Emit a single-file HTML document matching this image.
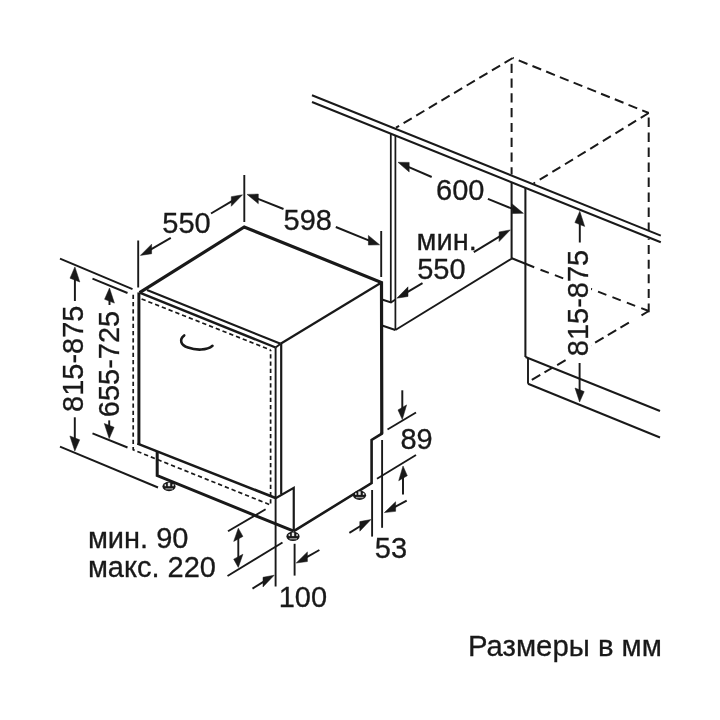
<!DOCTYPE html>
<html><head><meta charset="utf-8"><title>Размеры в мм</title>
<style>
html,body{margin:0;padding:0;background:#fff;}
body{width:720px;height:720px;overflow:hidden;}
svg{display:block;will-change:transform;}
svg text{font-family:"Liberation Sans",sans-serif;fill:#191919;stroke:#191919;stroke-width:0.3px;}
</style></head><body>
<svg width="720" height="720" viewBox="0 0 720 720" fill="none" stroke="#191919">
<line x1="312" y1="95.3" x2="660.8" y2="235.6" stroke-width="2.0" stroke-linecap="butt"/>
<line x1="312" y1="102" x2="660.8" y2="242.3" stroke-width="2.0" stroke-linecap="butt"/>
<line x1="512.7" y1="58" x2="396" y2="127.7" stroke-width="2.0" stroke-dasharray="9.5 5.2" stroke-dashoffset="0"/>
<line x1="512.7" y1="58" x2="648.75" y2="113" stroke-width="2.0" stroke-dasharray="9.4 5.4" stroke-dashoffset="8.3"/>
<line x1="648.75" y1="113" x2="533.5" y2="183.5" stroke-width="2.0" stroke-dasharray="9.4 5.4" stroke-dashoffset="0"/>
<line x1="511.6" y1="58" x2="511.6" y2="174.5" stroke-width="2.0" stroke-dasharray="9.2 5.6" stroke-dashoffset="9.1"/>
<line x1="648.7" y1="113" x2="648.7" y2="230.6" stroke-width="2.0" stroke-dasharray="9.3 5.7" stroke-dashoffset="10.4"/>
<line x1="648.7" y1="238.5" x2="648.7" y2="239.8" stroke-width="2.0" stroke-linecap="butt"/>
<line x1="648.7" y1="245.1" x2="648.7" y2="312.3" stroke-width="2.0" stroke-dasharray="9 5.6" stroke-dashoffset="0"/>
<line x1="511.8" y1="258.3" x2="534.2" y2="267.2" stroke-width="2.0" stroke-linecap="butt"/>
<line x1="540.5" y1="269.7" x2="648.75" y2="311" stroke-width="2.0" stroke-dasharray="8.9 6.5" stroke-dashoffset="0"/>
<line x1="648.75" y1="311" x2="641.5" y2="315.3" stroke-width="2.0" stroke-linecap="butt"/>
<line x1="628.9" y1="322.7" x2="527.5" y2="382.5" stroke-width="2.0" stroke-dasharray="9.8 4.9" stroke-dashoffset="0"/>
<line x1="390.8" y1="134" x2="390.8" y2="302.5" stroke-width="1.75" stroke-linecap="butt"/>
<line x1="395.4" y1="136" x2="395.4" y2="330" stroke-width="1.75" stroke-linecap="butt"/>
<polyline points="382,299.5 391,302.5 395.4,299.5" stroke-width="1.9" stroke-linejoin="miter"/>
<line x1="382" y1="325.5" x2="395.4" y2="330" stroke-width="1.9" stroke-linecap="butt"/>
<line x1="395.4" y1="330" x2="512" y2="258.5" stroke-width="1.9" stroke-linecap="butt"/>
<line x1="511.6" y1="182.5" x2="511.6" y2="258.5" stroke-width="2.05" stroke-linecap="butt"/>
<line x1="525.4" y1="188" x2="525.4" y2="357" stroke-width="2.05" stroke-linecap="butt"/>
<line x1="525.5" y1="357" x2="660" y2="411" stroke-width="1.9" stroke-linecap="butt"/>
<line x1="528" y1="358" x2="528" y2="383.75" stroke-width="1.9" stroke-linecap="butt"/>
<line x1="528" y1="383.75" x2="660" y2="437.5" stroke-width="1.9" stroke-linecap="butt"/>
<polyline points="139.6,292.7 244.25,227 381.5,282.5 381.8,433.7" stroke-width="3.2" stroke-linejoin="miter"/>
<polyline points="381.8,432 381.8,433.7 371.6,440 371.6,483 293.75,531.2" stroke-width="2.6" stroke-linejoin="miter"/>
<polyline points="147,290 280.6,343.75" stroke-width="2.1" stroke-linejoin="miter"/>
<line x1="280.6" y1="343.75" x2="381.5" y2="282.5" stroke-width="2.2" stroke-linecap="butt"/>
<polyline points="139.6,292.7 275.6,347.5" stroke-width="2.4" stroke-linejoin="miter"/>
<line x1="275.6" y1="347.5" x2="280.6" y2="343.75" stroke-width="1.9" stroke-linecap="butt"/>
<line x1="138.9" y1="292.4" x2="138.9" y2="445" stroke-width="3.0" stroke-linecap="butt"/>
<line x1="137.5" y1="443.6" x2="275.6" y2="498" stroke-width="2.6" stroke-linecap="butt"/>
<line x1="275.6" y1="347.5" x2="275.6" y2="586.5" stroke-width="1.9" stroke-linecap="butt"/>
<line x1="281.2" y1="344" x2="281.2" y2="494" stroke-width="2.2" stroke-linecap="butt"/>
<polyline points="133.2,294.8 133.2,449.8 270.6,505 270.6,350" stroke-width="1.7" stroke-dasharray="4.3 2.95" stroke-linejoin="miter"/>
<line x1="141.6" y1="299" x2="270.6" y2="350" stroke-width="1.7" stroke-dasharray="4.3 2.95" stroke-linecap="butt"/>
<polyline points="157.2,451 157.2,475.6 293.75,531.2" stroke-width="3.0" stroke-linejoin="miter"/>
<polyline points="275.6,498.3 293.75,487.8 293.75,531.2" stroke-width="2.2" stroke-linejoin="miter"/>
<ellipse cx="169" cy="486.5" rx="6.6" ry="4.7" fill="#191919" stroke="none"/>
<rect x="164.6" y="484.2" width="1.5" height="2" fill="#fff" stroke="none" opacity="0.85"/>
<rect x="167.8" y="482.7" width="2.4" height="3.5" fill="#fff" stroke="none" opacity="0.9"/>
<rect x="172.3" y="484.2" width="1.5" height="2" fill="#fff" stroke="none" opacity="0.85"/>
<rect x="165.4" y="488.2" width="7.6" height="1.3" fill="#fff" stroke="none" opacity="0.55"/>
<ellipse cx="293" cy="536.4" rx="6.6" ry="4.7" fill="#191919" stroke="none"/>
<rect x="288.6" y="534.1" width="1.5" height="2" fill="#fff" stroke="none" opacity="0.85"/>
<rect x="291.8" y="532.6" width="2.4" height="3.5" fill="#fff" stroke="none" opacity="0.9"/>
<rect x="296.3" y="534.1" width="1.5" height="2" fill="#fff" stroke="none" opacity="0.85"/>
<rect x="289.4" y="538.1" width="7.6" height="1.3" fill="#fff" stroke="none" opacity="0.55"/>
<ellipse cx="359.5" cy="495.2" rx="6.6" ry="4.7" fill="#191919" stroke="none"/>
<rect x="355.1" y="492.9" width="1.5" height="2" fill="#fff" stroke="none" opacity="0.85"/>
<rect x="358.3" y="491.4" width="2.4" height="3.5" fill="#fff" stroke="none" opacity="0.9"/>
<rect x="362.8" y="492.9" width="1.5" height="2" fill="#fff" stroke="none" opacity="0.85"/>
<rect x="355.9" y="496.9" width="7.6" height="1.3" fill="#fff" stroke="none" opacity="0.55"/>
<path d="M184.2,335.4 C179,339.5 180.5,345 188,347.5 C196,350.5 207,350.5 212.5,345.8" stroke-width="2.6" stroke-linecap="round"/>
<line x1="138.2" y1="240.5" x2="138.2" y2="287.5" stroke-width="1.9" stroke-linecap="butt"/>
<line x1="244.3" y1="175" x2="244.3" y2="222" stroke-width="1.9" stroke-linecap="butt"/>
<line x1="381.2" y1="231" x2="381.2" y2="277" stroke-width="1.9" stroke-linecap="butt"/>
<line x1="170.8" y1="237.9" x2="150.1" y2="249.82" stroke-width="1.95" stroke-linecap="butt"/>
<polygon points="140.40,255.40 151.60,244.15 151.60,253.75" fill="#191919" stroke="#191919" stroke-width="0.5" stroke-linejoin="round"/>
<line x1="211" y1="213.5" x2="232.8" y2="200.56" stroke-width="1.95" stroke-linecap="butt"/>
<polygon points="242.50,194.80 231.30,196.65 231.30,206.25" fill="#191919" stroke="#191919" stroke-width="0.5" stroke-linejoin="round"/>
<text x="162.3" y="233.4" font-size="29" text-anchor="start">550</text>
<line x1="283.5" y1="209" x2="256.8" y2="198.29" stroke-width="1.95" stroke-linecap="butt"/>
<polygon points="247.10,194.40 258.30,194.09 258.30,203.69" fill="#191919" stroke="#191919" stroke-width="0.5" stroke-linejoin="round"/>
<line x1="335.8" y1="227" x2="369.9" y2="240.86" stroke-width="1.95" stroke-linecap="butt"/>
<polygon points="379.60,244.80 368.40,235.45 368.40,245.05" fill="#191919" stroke="#191919" stroke-width="0.5" stroke-linejoin="round"/>
<text x="283.5" y="229.5" font-size="29" text-anchor="start">598</text>
<line x1="431.7" y1="177" x2="407.7" y2="166.53" stroke-width="1.95" stroke-linecap="butt"/>
<polygon points="398.00,162.30 409.20,162.39 409.20,171.99" fill="#191919" stroke="#191919" stroke-width="0.5" stroke-linejoin="round"/>
<line x1="487.9" y1="198.9" x2="513.7" y2="209.37" stroke-width="1.95" stroke-linecap="butt"/>
<polygon points="523.40,213.30 512.20,203.96 512.20,213.56" fill="#191919" stroke="#191919" stroke-width="0.5" stroke-linejoin="round"/>
<text x="436.1" y="200" font-size="29" text-anchor="start">600</text>
<text x="416.5" y="250.1" font-size="29" text-anchor="start">мин.</text>
<text x="417.2" y="278.6" font-size="29" text-anchor="start">550</text>
<line x1="473.8" y1="252.2" x2="500.6" y2="235.83" stroke-width="1.95" stroke-linecap="butt"/>
<polygon points="510.30,229.90 499.10,231.94 499.10,241.54" fill="#191919" stroke="#191919" stroke-width="0.5" stroke-linejoin="round"/>
<line x1="422.5" y1="283.2" x2="406.5" y2="292.54" stroke-width="1.95" stroke-linecap="butt"/>
<polygon points="396.80,298.20 408.00,286.86 408.00,296.46" fill="#191919" stroke="#191919" stroke-width="0.5" stroke-linejoin="round"/>
<line x1="60" y1="258.7" x2="132.5" y2="289.2" stroke-width="1.9" stroke-linecap="butt"/>
<line x1="92.5" y1="278.7" x2="127.5" y2="293" stroke-width="1.9" stroke-linecap="butt"/>
<line x1="60" y1="446.7" x2="158" y2="487.5" stroke-width="1.9" stroke-linecap="butt"/>
<line x1="92.5" y1="433.3" x2="127.5" y2="447.5" stroke-width="1.9" stroke-linecap="butt"/>
<line x1="74.9" y1="301" x2="74.9" y2="278.6" stroke-width="1.95" stroke-linecap="butt"/>
<polygon points="74.90,266.90 70.00,278.18 79.80,282.02" fill="#191919" stroke="#191919" stroke-width="0.5" stroke-linejoin="round"/>
<line x1="74.8" y1="417.3" x2="74.8" y2="439.4" stroke-width="1.95" stroke-linecap="butt"/>
<polygon points="74.80,451.10 69.90,435.98 79.70,439.82" fill="#191919" stroke="#191919" stroke-width="0.5" stroke-linejoin="round"/>
<line x1="109.5" y1="305" x2="109.5" y2="299.7" stroke-width="1.95" stroke-linecap="butt"/>
<polygon points="109.50,288.00 104.60,299.28 114.40,303.12" fill="#191919" stroke="#191919" stroke-width="0.5" stroke-linejoin="round"/>
<line x1="109.2" y1="420.4" x2="109.2" y2="426.9" stroke-width="1.95" stroke-linecap="butt"/>
<polygon points="109.20,438.60 104.30,423.48 114.10,427.32" fill="#191919" stroke="#191919" stroke-width="0.5" stroke-linejoin="round"/>
<text x="83" y="412" font-size="29" text-anchor="start" transform="rotate(-90 83 412)">815-875</text>
<text x="119.3" y="417.2" font-size="29" text-anchor="start" transform="rotate(-90 119.3 417.2)">655-725</text>
<rect x="565.5" y="246" width="25.5" height="113" fill="#fff" stroke="none"/>
<line x1="579.8" y1="242.5" x2="579.8" y2="223.0" stroke-width="1.95" stroke-linecap="butt"/>
<polygon points="579.80,211.30 574.90,222.58 584.70,226.42" fill="#191919" stroke="#191919" stroke-width="0.5" stroke-linejoin="round"/>
<line x1="579.6" y1="363" x2="579.6" y2="391.3" stroke-width="1.95" stroke-linecap="butt"/>
<polygon points="579.60,402.00 575.00,388.00 584.20,391.60" fill="#191919" stroke="#191919" stroke-width="0.5" stroke-linejoin="round"/>
<text x="588.1" y="356.2" font-size="29" text-anchor="start" transform="rotate(-90 588.1 356.2)">815-875</text>
<line x1="387.5" y1="429.5" x2="416" y2="412.5" stroke-width="1.9" stroke-linecap="butt"/>
<line x1="377" y1="478.75" x2="416" y2="455" stroke-width="1.9" stroke-linecap="butt"/>
<line x1="402.3" y1="390.3" x2="402.3" y2="408.9" stroke-width="1.95" stroke-linecap="butt"/>
<polygon points="402.30,419.60 398.00,409.92 406.60,404.88" fill="#191919" stroke="#191919" stroke-width="0.5" stroke-linejoin="round"/>
<line x1="403" y1="494.5" x2="403" y2="476.7" stroke-width="1.95" stroke-linecap="butt"/>
<polygon points="403.00,466.00 398.70,480.72 407.30,475.68" fill="#191919" stroke="#191919" stroke-width="0.5" stroke-linejoin="round"/>
<text x="400.4" y="448.6" font-size="29" text-anchor="start">89</text>
<line x1="372.1" y1="490" x2="372.1" y2="536.6" stroke-width="1.9" stroke-linecap="butt"/>
<line x1="382.1" y1="440" x2="382.1" y2="527.8" stroke-width="1.9" stroke-linecap="butt"/>
<line x1="349.4" y1="532.8" x2="361.3" y2="525.47" stroke-width="1.95" stroke-linecap="butt"/>
<polygon points="371.00,519.50 359.80,521.60 359.80,531.20" fill="#191919" stroke="#191919" stroke-width="0.5" stroke-linejoin="round"/>
<line x1="406.7" y1="500.6" x2="394.1" y2="507.38" stroke-width="1.95" stroke-linecap="butt"/>
<polygon points="384.40,512.60 395.60,501.77 395.60,511.37" fill="#191919" stroke="#191919" stroke-width="0.5" stroke-linejoin="round"/>
<text x="374.8" y="558.4" font-size="29" text-anchor="start">53</text>
<line x1="294.6" y1="543.8" x2="294.6" y2="575.6" stroke-width="1.9" stroke-linecap="butt"/>
<line x1="252.5" y1="588.6" x2="264.5" y2="581.19" stroke-width="1.95" stroke-linecap="butt"/>
<polygon points="274.20,575.20 263.00,577.32 263.00,586.92" fill="#191919" stroke="#191919" stroke-width="0.5" stroke-linejoin="round"/>
<line x1="319.4" y1="550" x2="305.9" y2="557.56" stroke-width="1.95" stroke-linecap="butt"/>
<polygon points="296.20,563.00 307.40,551.92 307.40,561.52" fill="#191919" stroke="#191919" stroke-width="0.5" stroke-linejoin="round"/>
<text x="278.7" y="606.5" font-size="29" text-anchor="start">100</text>
<line x1="228" y1="531.3" x2="265.6" y2="509.3" stroke-width="1.9" stroke-linecap="butt"/>
<line x1="227.5" y1="576" x2="282.5" y2="542.5" stroke-width="1.9" stroke-linecap="butt"/>
<polygon points="238.30,528.20 233.70,541.38 242.90,536.43" fill="#191919" stroke="#191919" stroke-width="0.5" stroke-linejoin="round"/>
<polygon points="238.30,567.40 233.70,559.17 242.90,554.22" fill="#191919" stroke="#191919" stroke-width="0.5" stroke-linejoin="round"/>
<line x1="238.3" y1="537" x2="238.3" y2="558" stroke-width="1.9" stroke-linecap="butt"/>
<text x="87.9" y="548.3" font-size="29" text-anchor="start">мин. 90</text>
<text x="87.9" y="577.2" font-size="29" text-anchor="start">макс. 220</text>
<text x="468" y="656.4" font-size="29.3" text-anchor="start">Размеры в мм</text>
</svg>
</body></html>
